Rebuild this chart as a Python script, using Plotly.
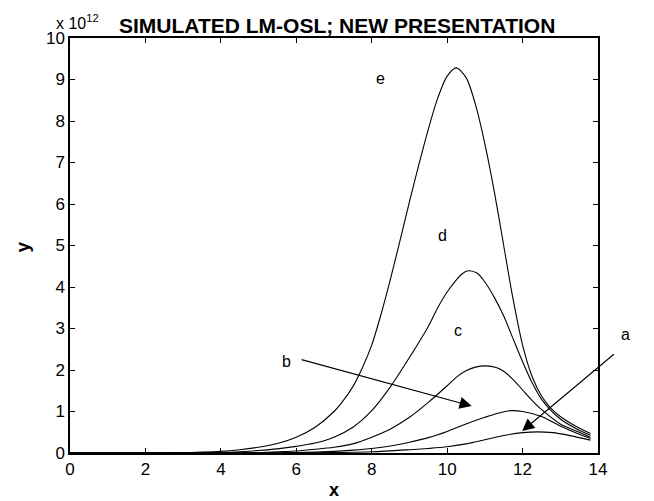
import plotly.graph_objects as go

# Simulated LM-OSL curves (y in units of 1e12), read on the log-time axis x
xa = [0, 2, 4, 6, 7, 8, 9, 9.5, 10, 10.5, 11, 11.5, 12, 12.4, 12.8, 13.2, 13.5, 13.8]
ya = [0, 0, 0, 0, 0.01, 0.03, 0.08, 0.11, 0.15, 0.22, 0.32, 0.42, 0.49, 0.51, 0.49, 0.43, 0.37, 0.31]

xb = [0, 2, 4, 6, 7, 7.5, 8, 8.5, 9, 9.5, 10, 10.5, 11, 11.35, 11.67, 12, 12.5, 13, 13.5, 13.8]
yb = [0, 0, 0, 0.01, 0.04, 0.07, 0.11, 0.17, 0.26, 0.37, 0.52, 0.7, 0.86, 0.96, 1.02, 1.0, 0.88, 0.65, 0.45, 0.35]

xc = [0, 2, 4, 5, 5.5, 6, 6.5, 7, 7.5, 8, 8.5, 9, 9.5, 10, 10.25, 10.5, 10.75, 11.03, 11.3, 11.5, 11.75,
      12, 12.25, 12.5, 13, 13.5, 13.8]
yc = [0, 0, 0, 0.01, 0.03, 0.05, 0.09, 0.14, 0.22, 0.38, 0.58, 0.86, 1.22, 1.62, 1.83, 1.98, 2.07, 2.10, 2.06, 1.97, 1.77,
      1.52, 1.27, 1.05, 0.7, 0.5, 0.38]

xd = [0, 2, 3.5, 4, 4.5, 5, 5.5, 6, 6.5, 7, 7.5, 8, 8.5, 9, 9.5, 9.75, 10, 10.25, 10.4, 10.56, 10.8, 11, 11.25,
      11.5, 11.75, 12, 12.25, 12.5, 13, 13.5, 13.8]
yd = [0, 0, 0, 0.01, 0.03, 0.06, 0.1, 0.16, 0.24, 0.38, 0.62, 1.02, 1.6, 2.3, 3.05, 3.5, 3.88, 4.18, 4.32, 4.39, 4.33, 4.12, 3.75,
      3.3, 2.75, 2.2, 1.7, 1.3, 0.82, 0.55, 0.43]

xe = [0, 2, 3, 3.5, 4, 4.5, 5, 5.5, 6, 6.5, 7, 7.25, 7.5, 7.75, 8, 8.25, 8.5, 8.75, 9, 9.25, 9.5, 9.75, 10, 10.24,
      10.5, 10.75, 11, 11.25, 11.5, 11.75, 12, 12.25, 12.5, 12.75, 13, 13.5, 13.8]
ye = [0, 0, 0.01, 0.02, 0.04, 0.08, 0.14, 0.23, 0.38, 0.62, 1.0, 1.27, 1.6, 2.05, 2.6, 3.35, 4.2, 5.12, 6.05, 6.95, 7.8, 8.55, 9.08, 9.28,
      9.05, 8.4, 7.45, 6.3, 5.0, 3.7, 2.6, 1.85, 1.38, 1.08, 0.88, 0.6, 0.47]

xticks = [0, 2, 4, 6, 8, 10, 12, 14]
yticks = [0, 1, 2, 3, 4, 5, 6, 7, 8, 9, 10]

FONT = "Liberation Sans, Arial, sans-serif"

fig = go.Figure()
for xs, ys in [(xa, ya), (xb, yb), (xc, yc), (xd, yd), (xe, ye)]:
    fig.add_trace(go.Scatter(x=xs, y=ys, mode="lines",
                             line=dict(color="black", width=1.1, shape="spline", smoothing=0.8),
                             showlegend=False, hoverinfo="skip"))

# curve labels inside the axes
for txt, lx, ly in [("e", 8.22, 9.03), ("d", 9.89, 5.25), ("c", 10.29, 2.96), ("b", 5.75, 2.2)]:
    fig.add_annotation(x=lx, y=ly, text=txt, showarrow=False,
                       font=dict(family=FONT, size=16, color="black"))
# label "a" sits to the right of the axes
fig.add_annotation(xref="paper", yref="paper", x=(14.9 / 14), y=(2.6 / 10), text="a", showarrow=False,
                   font=dict(family=FONT, size=16, color="black"))

# arrows pointing to curves b and a
for tx, ty, hx, hy in [(6.1, 2.26, 10.65, 1.13), (14.46, 2.41, 11.99, 0.53)]:
    fig.add_annotation(x=hx, y=hy, ax=tx, ay=ty, xref="x", yref="y", axref="x", ayref="y",
                       text="", showarrow=True, arrowhead=2, arrowsize=2.2,
                       arrowwidth=1.1, arrowcolor="black")

# title and exponent note above the axes
fig.add_annotation(xref="paper", yref="paper", x=0.506, y=1.0, yshift=13, yanchor="middle",
                   text="<b>SIMULATED LM-OSL; NEW PRESENTATION</b>", showarrow=False,
                   font=dict(family=FONT, size=21, color="black"))
fig.add_annotation(xref="paper", yref="paper", x=0, y=1.0, xshift=-16, yshift=16,
                   xanchor="left", yanchor="middle",
                   text="x 10<sup>12</sup>", showarrow=False,
                   font=dict(family=FONT, size=16, color="black"))

# axis titles
fig.add_annotation(xref="paper", yref="paper", x=0.5, y=0, yshift=-37, yanchor="middle",
                   text="<b>x</b>", showarrow=False,
                   font=dict(family=FONT, size=18, color="black"))
fig.add_annotation(xref="paper", yref="paper", x=0, y=0.5, xshift=-48, yshift=-2,
                   xanchor="center", yanchor="middle", textangle=-90,
                   text="<b>y</b>", showarrow=False,
                   font=dict(family=FONT, size=19, color="black"))

axis_common = dict(showline=True, linecolor="black", linewidth=1.5, mirror="ticks",
                   ticks="inside", ticklen=5, tickwidth=1, tickcolor="black",
                   showgrid=False, zeroline=False, automargin=False,
                   tickfont=dict(family=FONT, size=17, color="black"))

fig.update_xaxes(range=[0, 14], tickvals=xticks, **axis_common)
fig.update_yaxes(range=[0, 10], tickvals=yticks, **axis_common)

fig.update_layout(width=654, height=501, margin=dict(l=70, r=56, t=38, b=48),
                  plot_bgcolor="white", paper_bgcolor="white")

fig.write_html("out.html")
